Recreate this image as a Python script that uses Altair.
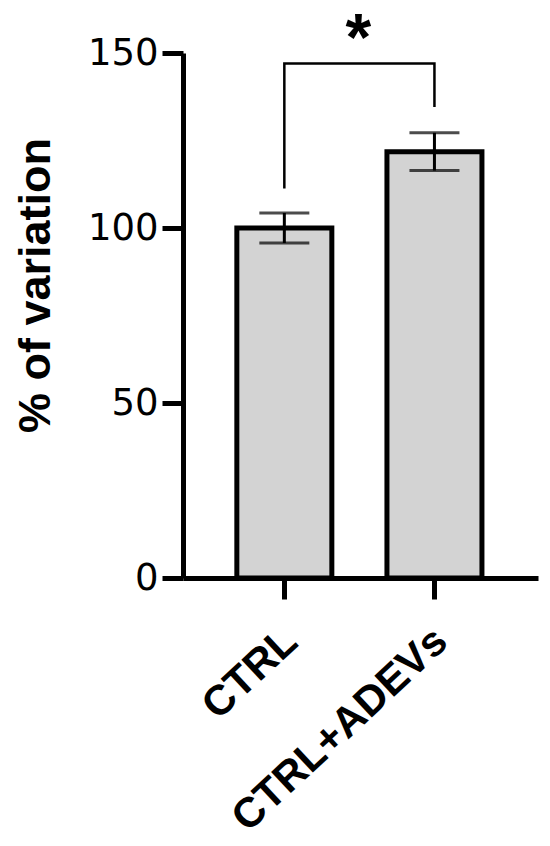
import altair as alt
import pandas as pd

groups = ["CTRL", "CTRL+ADEVs"]
means = [100.0, 121.8]
sems = [4.3, 5.4]

bracket_x = ["CTRL", "CTRL", "CTRL+ADEVs", "CTRL+ADEVs"]
bracket_y = [111.3, 147.0, 147.0, 134.6]
bracket_order = [0, 1, 2, 3]

star_group = ["CTRL"]
star_y = [147.0]
star_text = ["*"]

y_ticks = [0, 50, 100, 150]

df = pd.DataFrame({
    "group": groups,
    "mean": means,
    "lo": [m - s for m, s in zip(means, sems)],
    "hi": [m + s for m, s in zip(means, sems)],
})
df_br = pd.DataFrame({"group": bracket_x, "y": bracket_y, "o": bracket_order})
df_star = pd.DataFrame({"group": star_group, "y": star_y, "t": star_text})

xscale = alt.Scale(domain=groups, paddingInner=0.375, paddingOuter=0.37, align=0.49)
yscale = alt.Scale(domain=[0, 150], nice=False)

xenc = alt.X(
    "group:N", scale=xscale, sort=groups, title=None,
    axis=alt.Axis(
        labelAngle=-43, labelAlign="right", labelBaseline="top",
        labelFont="Liberation Sans", labelFontWeight="bold", labelFontSize=42,
        labelPadding=21, labelOffset=-7, labelLimit=500, labelColor="black",
        tickSize=21, tickWidth=5, tickColor="black",
        domainWidth=5, domainColor="black",
    ),
)

bars = alt.Chart(df).mark_bar(
    size=95, fill="#d3d3d3", stroke="black", strokeWidth=5
).encode(
    x=xenc,
    y=alt.Y(
        "mean:Q", scale=yscale, title="% of variation",
        axis=alt.Axis(
            values=y_ticks, grid=False,
            labelFont="DejaVu Sans", labelFontSize=37, labelColor="black",
            labelPadding=4,
            tickSize=21, tickWidth=5, tickColor="black",
            domainWidth=5, domainColor="black",
            titleFont="Liberation Sans", titleFontWeight="bold", titleFontSize=45,
            titleColor="black", titleAngle=-90, titleAlign="center",
            titleBaseline="middle", titleX=-148, titleY=232,
        ),
    ),
)

err = alt.Chart(df).mark_rule(color="black", strokeWidth=3).encode(
    x=alt.X("group:N", scale=xscale, sort=groups),
    y=alt.Y("lo:Q", scale=yscale),
    y2="hi:Q",
)

caps_lo = alt.Chart(df).mark_tick(color="black", thickness=3, size=50).encode(
    x=alt.X("group:N", scale=xscale, sort=groups),
    y=alt.Y("lo:Q", scale=yscale),
)
caps_hi = alt.Chart(df).mark_tick(color="black", thickness=3, size=50).encode(
    x=alt.X("group:N", scale=xscale, sort=groups),
    y=alt.Y("hi:Q", scale=yscale),
)

bracket = alt.Chart(df_br).mark_line(color="black", strokeWidth=2.5, clip=False).encode(
    x=alt.X("group:N", scale=xscale, sort=groups),
    y=alt.Y("y:Q", scale=yscale),
    order="o:Q",
)

star = alt.Chart(df_star).mark_text(
    font="Liberation Sans", fontWeight="bold", fontSize=66, color="black",
    baseline="alphabetic", align="center", dx=74, dy=-4,
).encode(
    x=alt.X("group:N", scale=xscale, sort=groups),
    y=alt.Y("y:Q", scale=yscale),
    text="t:N",
)

chart = alt.layer(bars, err, caps_lo, caps_hi, bracket, star).properties(
    width=355,
    height=525,
    autosize=alt.AutoSizeParams(type="none"),
    padding={"left": 175, "top": 45, "right": 4, "bottom": 258},
).configure(
    background="white",
    view=alt.ViewConfig(stroke=None),
)

chart.save("out.html", embed_options={"renderer": "svg", "actions": False})
